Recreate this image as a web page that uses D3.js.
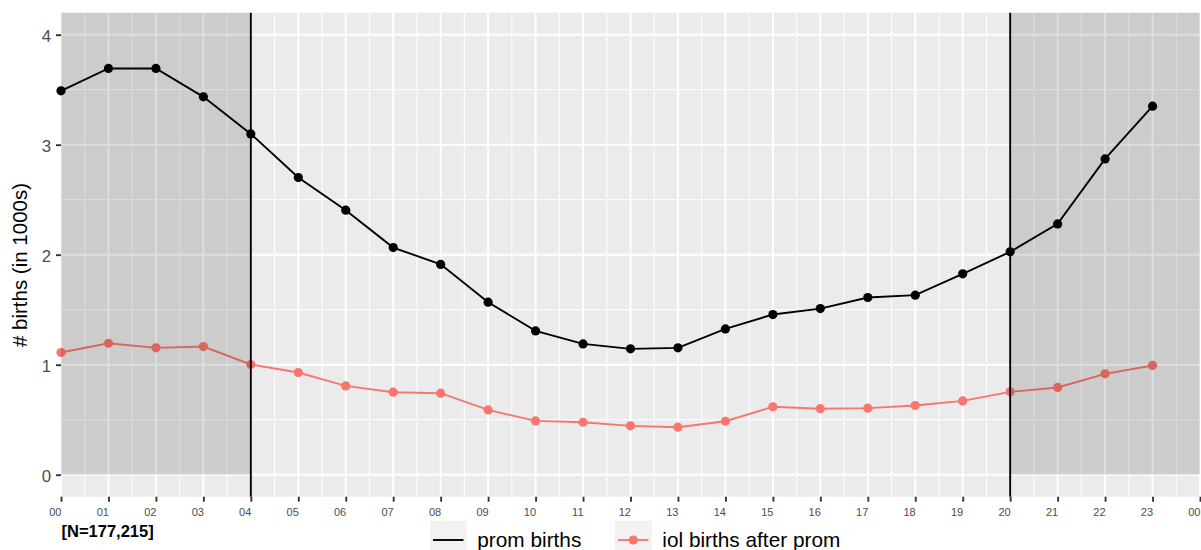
<!DOCTYPE html>
<html>
<head>
<meta charset="utf-8">
<script src="https://cdn.jsdelivr.net/npm/d3@7"></script>
<style>
  body { margin: 0; background: #fff; }
  svg { display: block; font-family: "Liberation Sans", Arial, sans-serif; }
</style>
</head>
<body>
<svg id="chart" width="1201" height="550"></svg>
<script>
// Hour of day (0–23) and births per hour, in thousands
const hours = [0, 1, 2, 3, 4, 5, 6, 7, 8, 9, 10, 11, 12, 13, 14, 15, 16, 17, 18, 19, 20, 21, 22, 23];
const promBirths = [3.49, 3.693, 3.693, 3.435, 3.098, 2.702, 2.405, 2.065, 1.912, 1.568, 1.307, 1.189,
                    1.144, 1.153, 1.325, 1.456, 1.51, 1.611, 1.632, 1.826, 2.026, 2.28, 2.871, 3.35];
const iolBirths = [1.111, 1.195, 1.153, 1.165, 1.002, 0.929, 0.807, 0.75, 0.741, 0.589, 0.489, 0.477,
                   0.444, 0.432, 0.486, 0.617, 0.6, 0.605, 0.629, 0.671, 0.753, 0.793, 0.917, 0.993];

const xTickValues = [0, 1, 2, 3, 4, 5, 6, 7, 8, 9, 10, 11, 12, 13, 14, 15, 16, 17, 18, 19, 20, 21, 22, 23, 24];
const xTickLabels = ["00", "01", "02", "03", "04", "05", "06", "07", "08", "09", "10", "11",
                     "12", "13", "14", "15", "16", "17", "18", "19", "20", "21", "22", "23", "00"];
const yTicks = [0, 1, 2, 3, 4];
const yMinorTicks = [0.5, 1.5, 2.5, 3.5];
const xMinorTicks = [0.5, 1.5, 2.5, 3.5, 4.5, 5.5, 6.5, 7.5, 8.5, 9.5, 10.5, 11.5,
                     12.5, 13.5, 14.5, 15.5, 16.5, 17.5, 18.5, 19.5, 20.5, 21.5, 22.5, 23.5];

// Night periods (shaded) and their boundaries
const nightSpans = [[0, 4], [20, 24]];
const shiftBounds = [4, 20];

const seriesNames = ["prom births", "iol births after prom"];
const seriesColors = ["#000000", "#F8766D"];
const sampleLabel = "[N=177,215]";
const yTitle = "# births (in 1000s)";

const svg = d3.select("#chart");
const panel = { left: 61, right: 1200, top: 12.7, bottom: 496.7 };

const x = d3.scaleLinear().domain([0, 24]).range([panel.left, panel.right]);
const y = d3.scaleLinear().domain([-0.2, 4.2]).range([panel.bottom, panel.top]);

// panel background
svg.append("rect")
  .attr("x", panel.left).attr("y", panel.top)
  .attr("width", panel.right - panel.left).attr("height", panel.bottom - panel.top)
  .attr("fill", "#EBEBEB");

const grid = svg.append("g").attr("stroke", "#fff").attr("fill", "none");
grid.selectAll(".ymin").data(yMinorTicks).join("line")
  .attr("x1", panel.left).attr("x2", panel.right)
  .attr("y1", d => y(d)).attr("y2", d => y(d)).attr("stroke-width", 0.95);
grid.selectAll(".xmin").data(xMinorTicks).join("line")
  .attr("y1", panel.top).attr("y2", panel.bottom)
  .attr("x1", d => x(d)).attr("x2", d => x(d)).attr("stroke-width", 0.95);
grid.selectAll(".ymaj").data(yTicks).join("line")
  .attr("x1", panel.left).attr("x2", panel.right)
  .attr("y1", d => y(d)).attr("y2", d => y(d)).attr("stroke-width", 1.9);
grid.selectAll(".xmaj").data(xTickValues).join("line")
  .attr("y1", panel.top).attr("y2", panel.bottom)
  .attr("x1", d => x(d)).attr("x2", d => x(d)).attr("stroke-width", 1.9);

// series
const series = [promBirths, iolBirths];
const line = d3.line().x((d, i) => x(hours[i])).y(d => y(d));
series.forEach((vals, k) => {
  svg.append("path").datum(vals)
    .attr("d", line).attr("fill", "none")
    .attr("stroke", seriesColors[k]).attr("stroke-width", 1.9);
  svg.append("g").selectAll("circle").data(vals).join("circle")
    .attr("cx", (d, i) => x(hours[i])).attr("cy", d => y(d))
    .attr("r", 4.6).attr("fill", seriesColors[k]);
});

// night shading on top of the data
svg.append("g").selectAll("rect").data(nightSpans).join("rect")
  .attr("x", d => x(d[0])).attr("width", d => x(d[1]) - x(d[0]))
  .attr("y", panel.top).attr("height", y(0) - panel.top)
  .attr("fill", "#000").attr("fill-opacity", 0.13);

svg.append("g").selectAll("line").data(shiftBounds).join("line")
  .attr("x1", d => x(d)).attr("x2", d => x(d))
  .attr("y1", panel.top).attr("y2", panel.bottom)
  .attr("stroke", "#000").attr("stroke-width", 1.9);

// axes
const yAxis = svg.append("g").attr("transform", `translate(${panel.left},0)`)
  .call(d3.axisLeft(y).tickValues(yTicks).tickSize(5).tickPadding(5).tickFormat(d3.format("d")));
yAxis.select(".domain").remove();
yAxis.selectAll(".tick line").attr("stroke", "#333").attr("stroke-width", 1.9);
yAxis.selectAll(".tick text").attr("fill", "#4D4D4D").attr("font-size", "16.8px")
  .attr("dy", "0.43em").attr("font-family", "Liberation Sans, Arial, sans-serif");

const xAxis = svg.append("g").attr("transform", `translate(0,${panel.bottom})`)
  .call(d3.axisBottom(x).tickValues(xTickValues).tickSize(5).tickPadding(6.5)
    .tickFormat((d, i) => xTickLabels[i]));
xAxis.select(".domain").remove();
xAxis.selectAll(".tick line").attr("stroke", "#333").attr("stroke-width", 1.9);
xAxis.selectAll(".tick text").attr("fill", "#4D4D4D").attr("font-size", "11px")
  .attr("text-anchor", "end").attr("font-family", "Liberation Sans, Arial, sans-serif");

// y axis title
svg.append("text")
  .attr("transform", "translate(27,265) rotate(-90)")
  .attr("text-anchor", "middle").attr("font-size", "20.5px").attr("fill", "#000")
  .text(yTitle);

// sample size note
svg.append("text")
  .attr("x", 61.5).attr("y", 537.3)
  .attr("font-size", "16.5px").attr("font-weight", "bold").attr("fill", "#000")
  .text(sampleLabel);

// legend
const legendItems = [
  { x: 430, textX: 477.3, point: false },
  { x: 615, textX: 662.3, point: true }
];
const legend = svg.append("g");
legendItems.forEach((item, k) => {
  const g = legend.append("g");
  g.append("rect").attr("x", item.x).attr("y", 520.7).attr("width", 36.7).attr("height", 32)
    .attr("fill", "#F2F2F2");
  g.append("line").attr("x1", item.x + 3).attr("x2", item.x + 33.5)
    .attr("y1", 540).attr("y2", 540)
    .attr("stroke", seriesColors[k]).attr("stroke-width", 1.9);
  if (item.point) {
    g.append("circle").attr("cx", item.x + 18.35).attr("cy", 540).attr("r", 4.6)
      .attr("fill", seriesColors[k]);
  }
  g.append("text").attr("x", item.textX).attr("y", 547)
    .attr("font-size", "20.8px").attr("fill", "#000").text(seriesNames[k]);
});
</script>
</body>
</html>
